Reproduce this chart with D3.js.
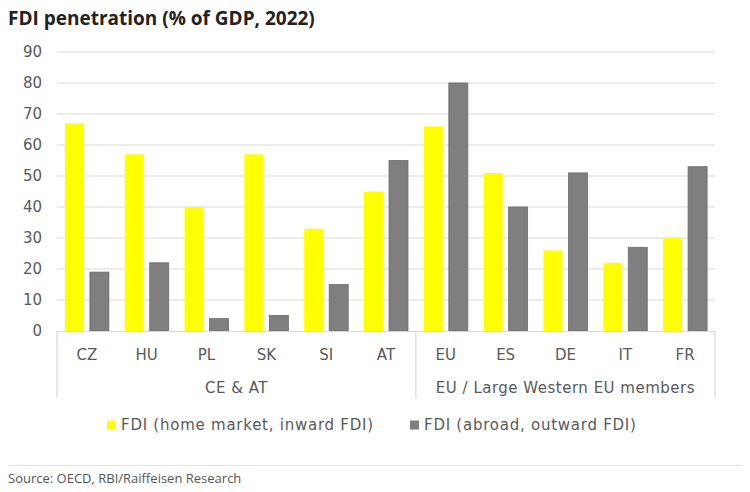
<!DOCTYPE html>
<html>
<head>
<meta charset="utf-8">
<style>
  body { margin: 0; background: #fff; }
</style>
</head>
<body>
<svg id="chart" width="750" height="492"></svg>
<script src="https://d3js.org/d3.v7.min.js"></script>
<script>
  const countries = ["CZ", "HU", "PL", "SK", "SI", "AT", "EU", "ES", "DE", "IT", "FR"];
  const inward = [67, 57, 40, 57, 33, 45, 66, 51, 26, 22, 30];
  const outward = [19, 22, 4, 5, 15, 55, 80, 40, 51, 27, 53];
  const groups = [
    { name: "CE & AT", from: 0, to: 5 },
    { name: "EU / Large Western EU members", from: 6, to: 10 }
  ];
  const yTicks = [0, 10, 20, 30, 40, 50, 60, 70, 80, 90];
  const seriesNames = ["FDI (home market, inward FDI)", "FDI (abroad, outward FDI)"];
  const colors = ["#ffff00", "#7f7f7f"];

  const svg = d3.select("#chart");
  const mLeft = 57, mRight = 715, mTop = 52, mBottom = 331;
  const labelFont = "'DejaVu Sans', sans-serif";

  const xb = d3.scaleBand().domain(countries).range([mLeft, mRight]);
  const step = xb.step();
  const inner = d3.scaleBand().domain([0, 1]).range([0, 44]).paddingInner(0.24);
  const y = d3.scaleLinear().domain([0, 90]).range([mBottom, mTop]);

  // title
  svg.append("text").attr("x", 8).attr("y", 25)
    .attr("font-family", "'Open Sans', sans-serif").attr("font-weight", "bold")
    .attr("font-size", 19).attr("fill", "#222").text("FDI penetration (% of GDP, 2022)");

  // gridlines
  svg.append("g").selectAll("line").data(yTicks.filter(d => d > 0)).join("line")
    .attr("x1", mLeft).attr("x2", mRight)
    .attr("y1", d => y(d)).attr("y2", d => y(d))
    .attr("stroke", "#d9d9d9").attr("stroke-width", 1);

  // y axis labels
  svg.append("g").selectAll("text").data(yTicks).join("text")
    .attr("x", 42).attr("y", d => y(d)).attr("dy", "0.36em")
    .attr("text-anchor", "end").attr("font-family", labelFont)
    .attr("font-size", 15).attr("fill", "#595959").text(d => d);

  // bars
  const rows = countries.map((c, i) => ({ c, vals: [inward[i], outward[i]] }));
  const cat = svg.append("g").selectAll("g").data(rows).join("g")
    .attr("transform", d => `translate(${xb(d.c) + (step - 44) / 2},0)`);
  cat.selectAll("rect").data(d => d.vals.map((v, k) => ({ v, k }))).join("rect")
    .attr("x", d => inner(d.k))
    .attr("y", d => y(d.v))
    .attr("width", inner.bandwidth())
    .attr("height", d => y(0) - y(d.v))
    .attr("fill", d => colors[d.k])
    .attr("stroke", d => d.k === 1 ? "#6b6b6b" : "none")
    .attr("stroke-width", 0.8);

  // category axis box
  const ax = svg.append("g").attr("stroke", "#d9d9d9").attr("stroke-width", 1.2);
  ax.append("line").attr("x1", mLeft).attr("x2", mRight).attr("y1", mBottom + 0.5).attr("y2", mBottom + 0.5);
  [mLeft, xb(countries[6]), mRight].forEach(px => {
    ax.append("line").attr("x1", px).attr("x2", px).attr("y1", mBottom).attr("y2", 398);
  });

  svg.append("g").selectAll("text").data(countries).join("text")
    .attr("x", d => xb(d) + step / 2).attr("y", 355).attr("dy", "0.36em")
    .attr("text-anchor", "middle").attr("font-family", labelFont)
    .attr("font-size", 15).attr("fill", "#595959").text(d => d);

  svg.append("g").selectAll("text").data(groups).join("text")
    .attr("x", d => (xb(countries[d.from]) + xb(countries[d.to]) + step) / 2)
    .attr("y", 388).attr("dy", "0.36em")
    .attr("text-anchor", "middle").attr("font-family", labelFont)
    .attr("font-size", 15).attr("letter-spacing", 0.5).attr("fill", "#595959").text(d => d.name);

  // legend
  const legX = [107, 410];
  const leg = svg.append("g").selectAll("g").data(seriesNames).join("g")
    .attr("transform", (d, i) => `translate(${legX[i]},425)`);
  leg.append("rect").attr("x", 0).attr("y", -4.5).attr("width", 9).attr("height", 9)
    .attr("fill", (d, i) => colors[i]);
  leg.append("text").attr("x", 14).attr("dy", "0.36em")
    .attr("font-family", labelFont).attr("font-size", 15).attr("letter-spacing", 0.75)
    .attr("fill", "#595959").text(d => d);

  // source
  svg.append("line").attr("x1", 8).attr("x2", 742).attr("y1", 465.5).attr("y2", 465.5)
    .attr("stroke", "#e3e3e3");
  svg.append("text").attr("x", 8).attr("y", 483)
    .attr("font-family", "'Open Sans', sans-serif").attr("font-size", 13)
    .attr("fill", "#555").text("Source: OECD, RBI/Raiffeisen Research");
</script>
</body>
</html>
